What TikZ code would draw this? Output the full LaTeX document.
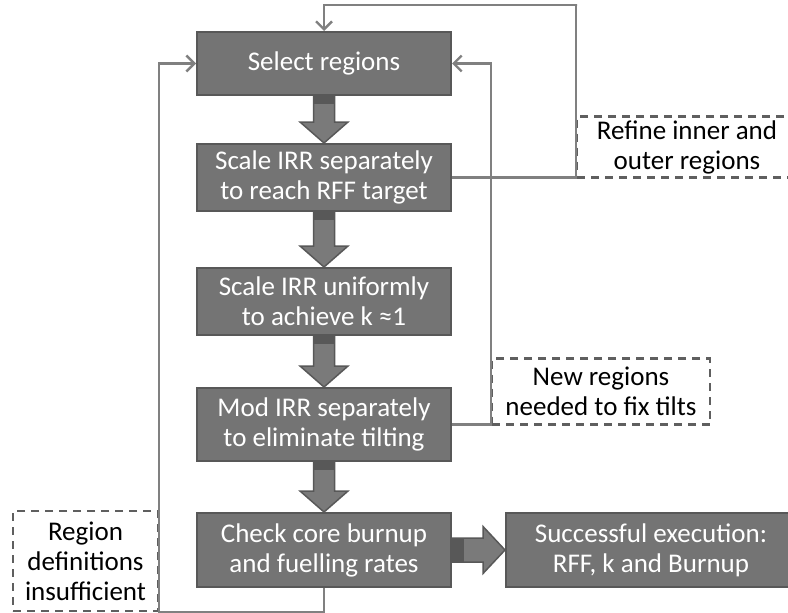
\documentclass[tikz,border=0pt]{standalone}
\usepackage{fontspec}
\setmainfont{Carlito}
\usepackage{tikz}
\usetikzlibrary{calc,arrows.meta}
\definecolor{boxgray}{RGB}{116,116,116}
\definecolor{boxedge}{RGB}{88,88,88}
\definecolor{arrgray}{RGB}{122,122,122}
\definecolor{linegray}{RGB}{128,128,128}
\definecolor{noteedge}{RGB}{95,95,95}

\begin{document}
\begin{tikzpicture}[x=1pt,y=-1pt,
    blk/.style={draw=boxedge,line width=2pt,fill=boxgray,text=white,align=center,
      minimum width=254pt,inner sep=2pt,font=\fontsize{27}{30}\selectfont},
    note/.style={draw=noteedge,dash pattern=on 8pt off 6pt,line width=2.4pt,align=center,
      inner sep=2pt,font=\fontsize{27}{30}\selectfont},
    fb/.style={draw=linegray,line width=2.4pt,
      -{Straight Barb[length=8pt,width=16pt,line width=2.4pt]}}]
                      \useasboundingbox (0,0) rectangle (788,613);
                      % main column
                      \node[blk,minimum height=63pt](sel)at(324,63.5){Select regions};
                      \node[blk,minimum height=67pt](scl)at(324,177.5){Scale IRR separately\\to reach RFF target};
                      \node[blk,minimum height=67pt](uni)at(324,301.5){Scale IRR uniformly\\to achieve k ≈1};
                      \node[blk,minimum height=73pt](mod)at(324,424.5){Mod IRR separately\\to eliminate tilting};
                      \node[blk,minimum height=74pt](chk)at(324,550){Check core burnup\\and fuelling rates};
                      \node[blk,minimum width=290pt,minimum height=74pt](done)at(651,550){Successful execution:\\RFF, k and Burnup};
                      % dashed notes
                      \node[note,minimum width=220pt,minimum height=61pt](ref)at(687,147){Refine inner and\\outer regions};
                      \node[note,minimum width=218pt,minimum height=66pt](new)at(601,391.5){New regions\\needed to fix tilts};
                      \node[note,minimum width=145pt,minimum height=100pt](reg)at(85.5,561){Region\\definitions\\insufficient};
                      % block arrows down the column
                      \foreach \a/\b in {sel/scl,scl/uni,uni/mod,mod/chk}{
                        \filldraw[fill=arrgray,draw=boxedge,line width=1.5pt]
                          ($(\a.south)+(-10.5,0)$) -- ($(\b.north)+(-10.5,-21)$) -- ($(\b.north)+(-24,-21)$)
                          -- (\b.north) -- ($(\b.north)+(24,-21)$) -- ($(\b.north)+(10.5,-21)$)
                          -- ($(\a.south)+(10.5,0)$) -- cycle;
                        \fill[boxedge]($(\a.south)+(-10.5,0)$)rectangle($(\a.south)+(10.5,8)$);
                      }
                      \filldraw[fill=arrgray,draw=boxedge,line width=1.5pt]
                        ($(chk.east)+(0,-12)$) -- ($(done.west)+(-22,-12)$) -- ($(done.west)+(-22,-23.5)$)
                        -- (done.west) -- ($(done.west)+(-22,23.5)$) -- ($(done.west)+(-22,12)$)
                        -- ($(chk.east)+(0,12)$) -- cycle;
                      \fill[boxedge]($(chk.east)+(0,-12)$)rectangle($(chk.east)+(12,12)$);
                      % feedback loops
                      \coordinate(top)at(577,5);
                      \draw[fb](scl.east)--(scl.east -| ref.west)|-(top)-|(sel.north);
                      \draw[fb](mod.east)--(mod.east -| new.west)|-(sel.east);
                      \draw[fb](chk.south)|-(reg.south east)|-(sel.west);
                  \end{tikzpicture}
\end{document}
